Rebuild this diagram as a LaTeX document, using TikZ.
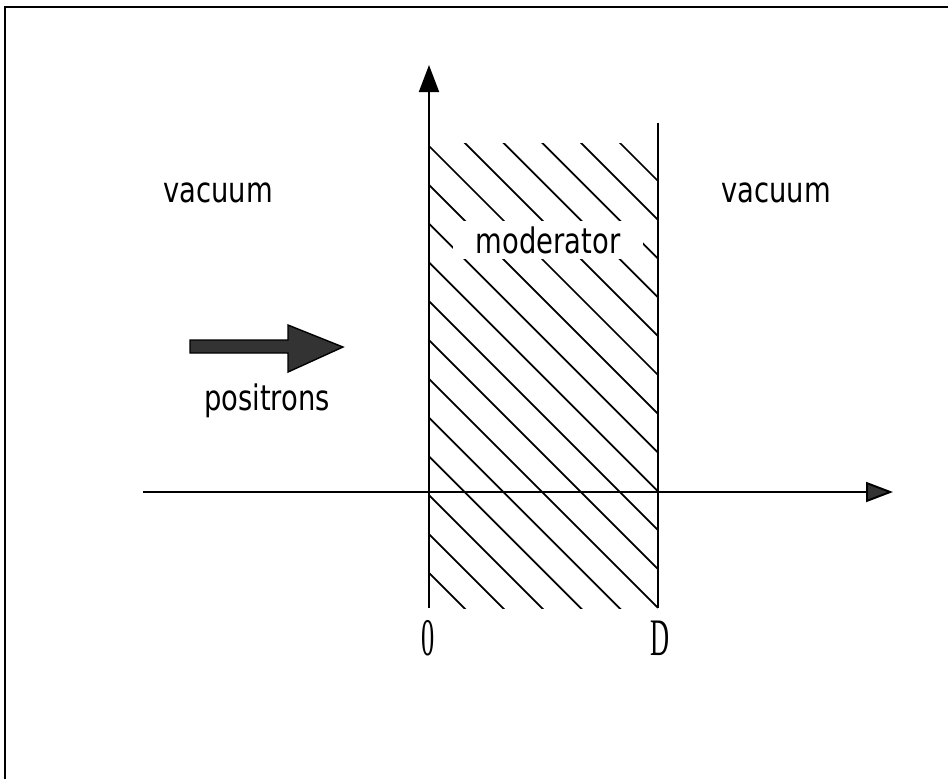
\documentclass[tikz,border=0pt]{standalone}
\usepackage{fontspec}
\setmainfont{DejaVu Sans}[FakeStretch=0.78]
\newfontfamily\tallfont{Liberation Serif}[FakeStretch=0.5]
\usetikzlibrary{arrows.meta}

\begin{document}
\begin{tikzpicture}[x=0.02cm,y=-0.02cm,
  axis/.style={line width=1.1pt},
  hatch/.style={line width=1pt},
  lbl/.style={font=\fontsize{20}{24}\selectfont,inner sep=0pt},
  endlbl/.style={font=\tallfont\fontsize{30}{32}\selectfont,inner sep=0pt}]
  \useasboundingbox (0,0) rectangle (948,779);
  % frame, only top and left edges are on the page
  \coordinate (fbl) at (5,779);
  \coordinate (ftl) at (5,7);
  \coordinate (ftr) at (948,7);
  \draw[line width=1.6pt] (fbl) -- (ftl) -- (ftr);
  % hatched moderator slab
  \begin{scope}
    \clip (429,143) rectangle (658,608);
    \foreach \k in {-5,...,11}
      \draw[hatch] (429,146+38.8*\k) -- (658,375+38.8*\k);
  \end{scope}
  \node[lbl,fill=white,minimum width=3.8cm,minimum height=0.76cm] (modlbl) at (548,240) {moderator};
  % axes and slab faces
  \coordinate (ytip) at (429,65);
  \coordinate (ybot) at (429,608);
  \coordinate (xstart) at (143,492);
  \coordinate (xtip) at (893,492);
  \coordinate (dtop) at (658,123);
  \coordinate (dbot) at (658,608);
  \draw[axis,-{Triangle[length=5.4mm,width=4mm]}] (ybot) -- (ytip);
  \draw[axis] (dtop) -- (dbot);
  \draw[axis,-{Triangle[length=5.4mm,width=4mm,fill=black!80]}] (xstart) -- (xtip);
  \node[endlbl] (zero) at (428,638) {0};
  \node[endlbl] (depth) at (660,638) {D};
  % incoming beam
  \filldraw[fill=black!80,line width=0.8pt] (190,340) -- (288,340) -- (288,325) -- (343,347)
    -- (288,372) -- (288,353) -- (190,353) -- cycle;
  \node[lbl,anchor=base] (beam) at (267,410) {positrons};
  \node[lbl,anchor=base] (vacl) at (218,202) {vacuum};
  \node[lbl,anchor=base] (vacr) at (776,202) {vacuum};
\end{tikzpicture}
\end{document}
